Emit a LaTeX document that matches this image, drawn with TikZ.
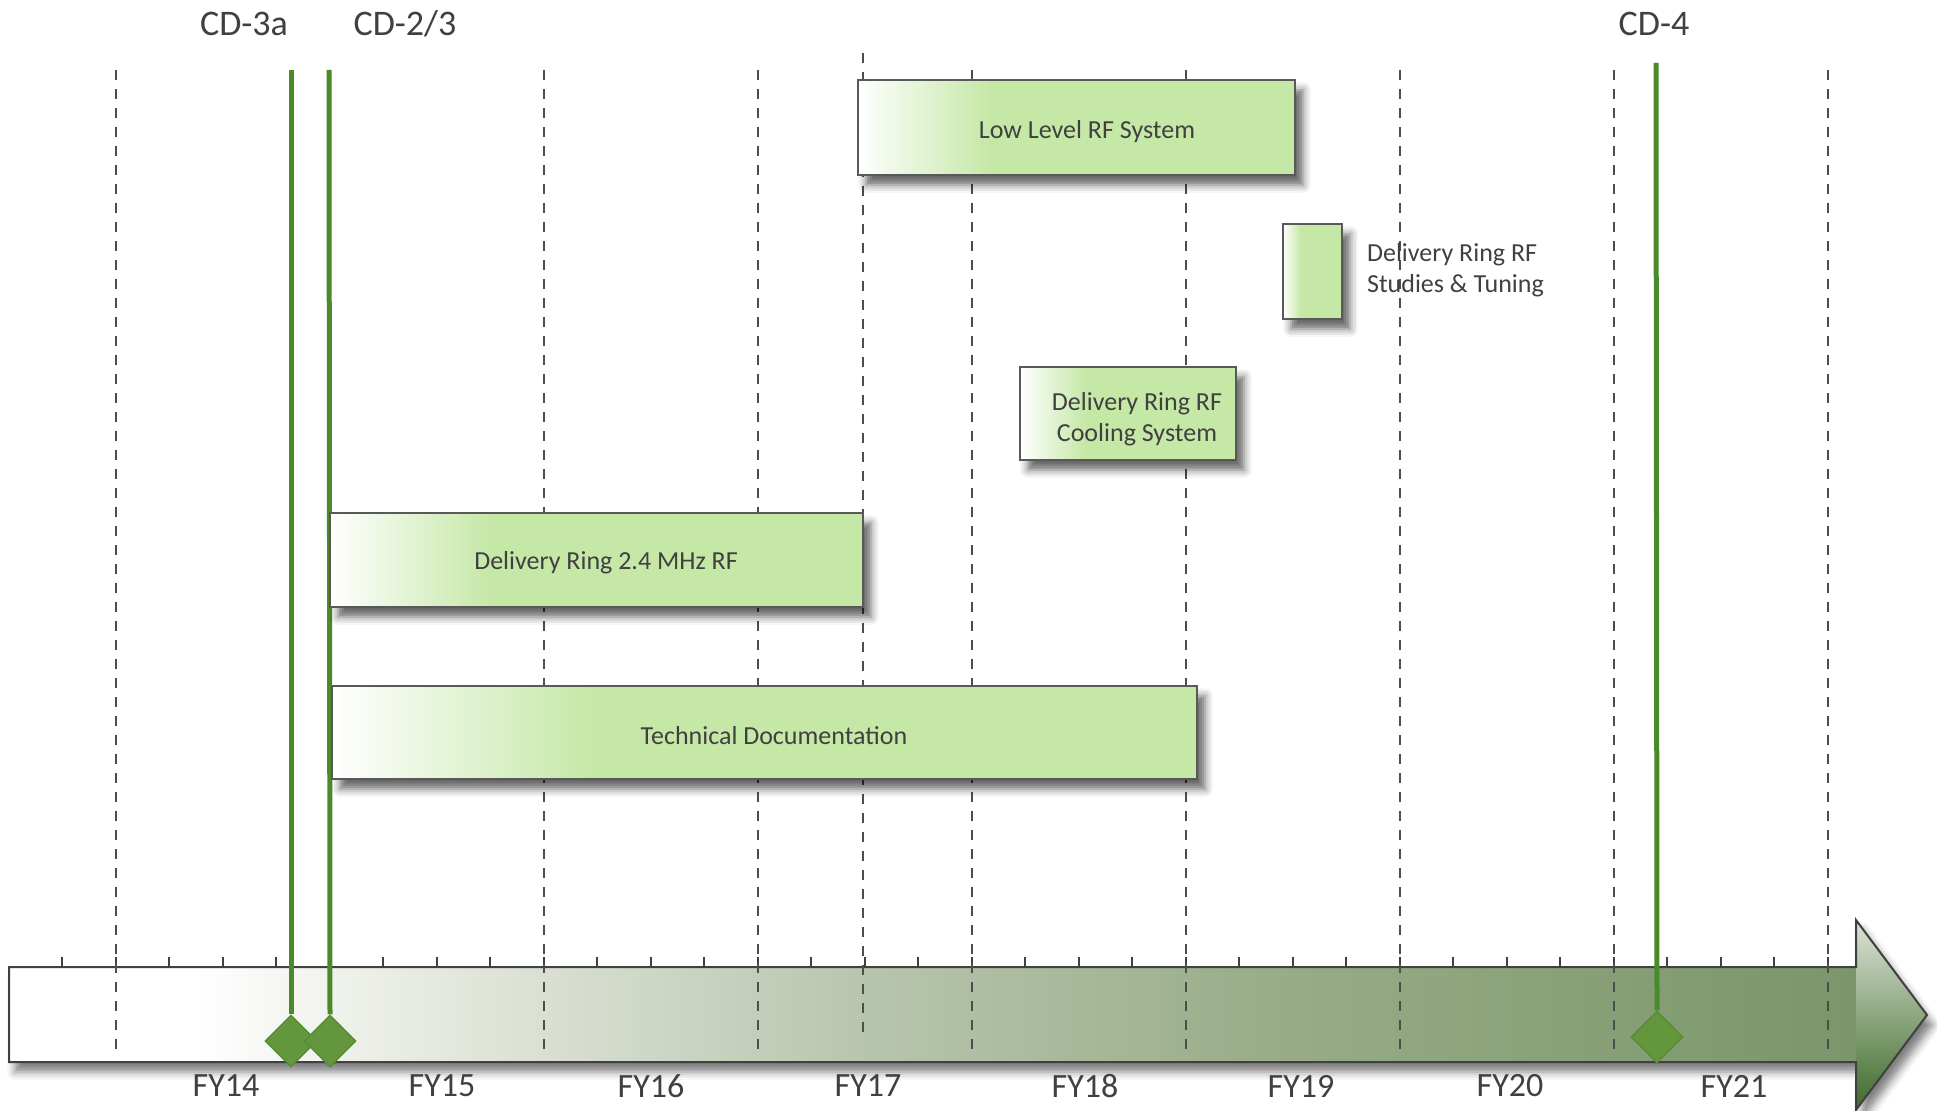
\documentclass[tikz,border=0pt]{standalone}
\usepackage{fontspec}
\setmainfont{Carlito}
\usetikzlibrary{positioning,shapes.geometric,shadows.blur,fit}

\definecolor{txtgray}{HTML}{404040}
\definecolor{dashgray}{HTML}{4D4D4D}
\definecolor{boxline}{HTML}{595959}
\definecolor{barfill}{HTML}{C5E8A7}
\definecolor{milegreen}{HTML}{4A8A2B}
\definecolor{diafill}{HTML}{64963D}
\definecolor{axone}{HTML}{E4E8DE}
\definecolor{axtwo}{HTML}{B8C5AD}
\definecolor{axthree}{HTML}{96AB86}
\definecolor{axfour}{HTML}{7A966A}
\definecolor{headtop}{HTML}{DCE3D6}
\definecolor{headmid}{HTML}{86A174}
\definecolor{headbot}{HTML}{3E6B2B}

\pgfdeclarehorizontalshading{barfade}{100bp}{color(0bp)=(white); color(25bp)=(white); color(40bp)=(barfill); color(100bp)=(barfill)}
\pgfdeclarehorizontalshading{axisfade}{100bp}{color(0bp)=(white); color(30bp)=(white); color(36.7bp)=(axone); color(48.2bp)=(axtwo); color(60bp)=(axthree); color(75bp)=(axfour); color(100bp)=(axfour)}

\begin{document}
\begin{tikzpicture}[x=0.5pt,y=-0.5pt,
  every node/.style={text=txtgray},
  taskbox/.style={draw=boxline, line width=0.8pt, shading=barfade, inner sep=0pt,
    blur shadow={shadow xshift=4pt, shadow yshift=-5pt, shadow blur radius=4pt, shadow opacity=60}},
  tasktext/.style={font=\fontsize{13}{15.5}\selectfont, align=center},
  fylabel/.style={font=\fontsize{17}{20}\selectfont},
  cdlabel/.style={font=\fontsize{18}{21}\selectfont},
  gridline/.style={draw=dashgray, line width=1pt, dash pattern=on 5pt off 4.5pt},
  mileline/.style={draw=milegreen, line width=2.5pt},
  milestone/.style={diamond, fill=diafill, draw=milegreen!70!diafill, line width=0.6pt,
    minimum width=26pt, minimum height=26pt, inner sep=0pt},
  tick/.style={draw=txtgray, line width=1pt}]

\useasboundingbox (0,0) rectangle (1937,1111);

% time axis arrow
\fill[white, blur shadow={shadow xshift=3pt, shadow yshift=-5pt, shadow blur radius=4pt, shadow opacity=50}]
  (9,967) -- (1856,967) -- (1856,920) -- (1927,1015) -- (1856,1110) -- (1856,1062) -- (9,1062) -- cycle;
\shade[shading=axisfade] (9,967) rectangle (1856,1062);
\shade[top color=headtop, middle color=headmid, bottom color=headbot]
  (1856,920) -- (1927,1015) -- (1856,1110) -- cycle;
\draw[line width=1pt, draw=txtgray]
  (9,967) -- (1856,967) -- (1856,920) -- (1927,1015) -- (1856,1110) -- (1856,1062) -- (9,1062) -- cycle;

% quarter ticks
\foreach \t in {0,...,33}
  \draw[tick] (62+53.5*\t,957) -- (62+53.5*\t,967);

% year boundaries
\foreach \gx in {116,330,544,758,972,1186,1400,1614,1828}
  \draw[gridline] (\gx,70) -- (\gx,1050);
\draw[gridline] (863,53) -- (863,1033);

% fiscal years
\node[fylabel] (fy14) at (226,1086) {FY14};
\node[fylabel] (fy15) at (442,1086) {FY15};
\node[fylabel] (fy16) at (651,1086) {FY16};
\node[fylabel] (fy17) at (868,1086) {FY17};
\node[fylabel] (fy18) at (1085,1086) {FY18};
\node[fylabel] (fy19) at (1301,1086) {FY19};
\node[fylabel] (fy20) at (1510,1086) {FY20};
\node[fylabel] (fy21) at (1734,1086) {FY21};

% milestones
\coordinate (cd3a top) at (291,70);
\coordinate (cd23 top) at (329,70);
\coordinate (cd4 top) at (1656,63);
\node[milestone] (cd3a) at (291,1041) {};
\node[milestone] (cd23) at (330,1041) {};
\node[milestone] (cd4) at (1657,1037) {};
\draw[mileline] (cd3a top) -- (cd3a.north);
\draw[mileline] (cd23 top) -- (cd23.north);
\draw[mileline] (cd4 top) -- (cd4.north);
\node[cdlabel] (cd3a label) at (244,23.5) {CD-3a};
\node[cdlabel] (cd23 label) at (405,23.5) {CD-2/3};
\node[cdlabel] (cd4 label) at (1654,23.5) {CD-4};

% tasks
\node[taskbox, fit={(858,80) (1295,175)}] (llrf) {};
\node[tasktext] (llrf text) at (1087,132) {Low Level RF System};

\node[taskbox, fit={(1283,224) (1342,319)}] (tuning) {};
\node[tasktext, align=left, anchor=west] (tuning text) at (1360,270) {Delivery Ring RF\\Studies \& Tuning};

\node[taskbox, fit={(1020,367) (1236,460)}] (cooling) {};
\node[tasktext] (cooling text) at (1137,419) {Delivery Ring RF\\Cooling System};

\node[taskbox, fit={(330,513) (863,607)}] (mhzrf) {};
\node[tasktext] (mhzrf text) at (606,563) {Delivery Ring 2.4 MHz RF};

\node[taskbox, fit={(332,686) (1197,779)}] (techdoc) {};
\node[tasktext] (techdoc text) at (774,736) {Technical Documentation};

\end{tikzpicture}
\end{document}
